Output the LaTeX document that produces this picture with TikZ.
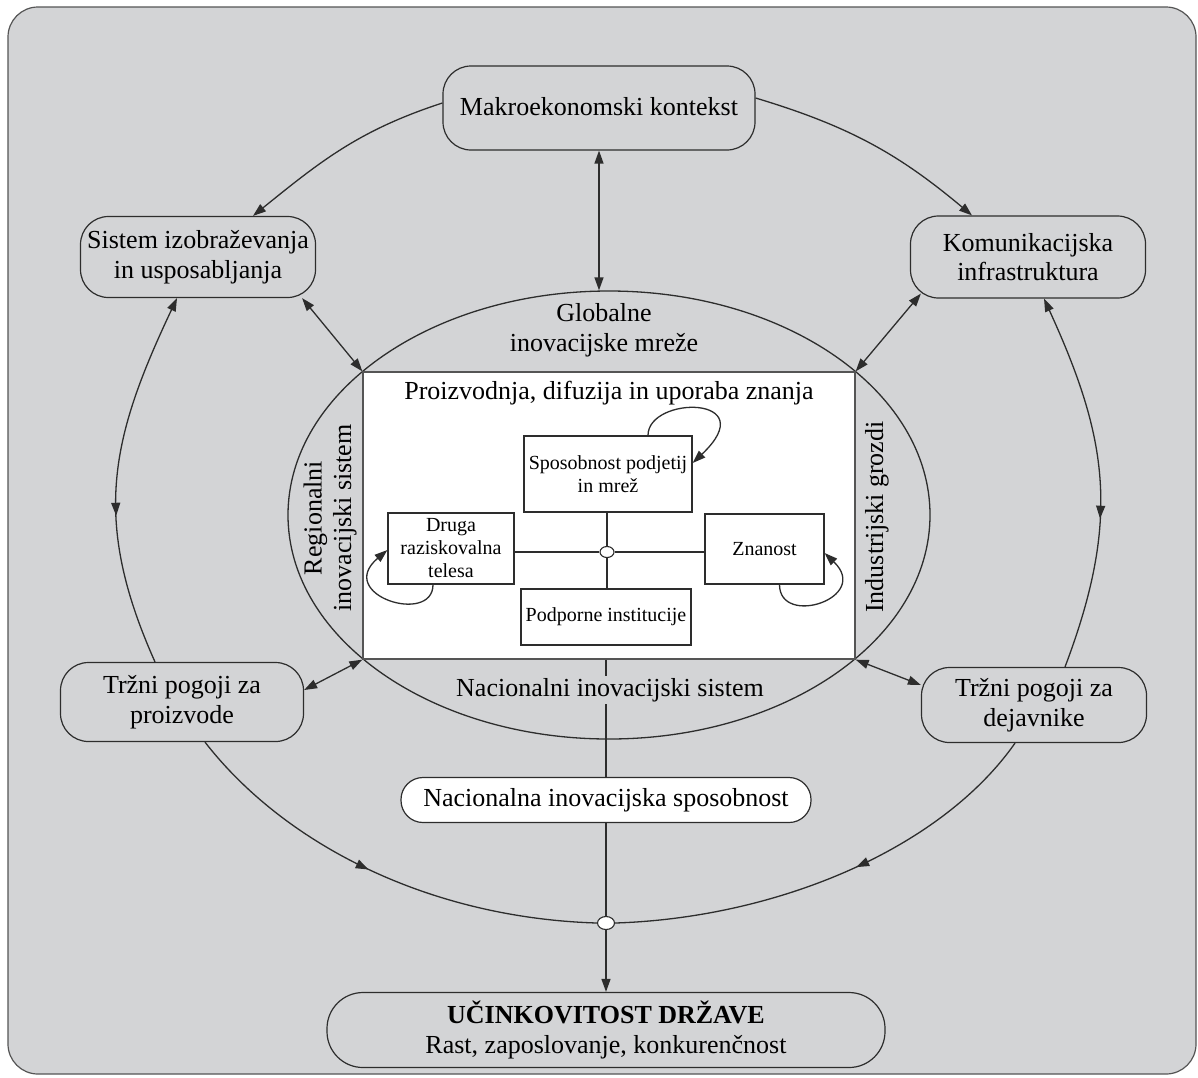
\documentclass[tikz,border=0pt]{standalone}
\usepackage{fontspec}
\setmainfont{Liberation Serif}
\usetikzlibrary{arrows.meta,shapes.geometric,decorations.markings}
\definecolor{bg}{RGB}{211,212,214}
\definecolor{ln}{RGB}{45,45,45}
\definecolor{frm}{RGB}{85,85,85}
\tikzset{
  big/.style={font=\fontsize{26}{29.5}\selectfont, align=center, text=black},
  sml/.style={font=\fontsize{20}{23}\selectfont, align=center, text=black},
  pill/.style={draw=ln, line width=1.2pt, rounded corners=28pt, inner sep=0pt, big},
  inbox/.style={draw=ln, line width=1.2pt, fill=white, inner sep=0pt, sml},
  conn/.style={draw=ln, line width=1.3pt},
  dot/.style={draw=ln, fill=white, ellipse, line width=1.1pt, inner sep=0pt},
  midtip/.style={postaction={decorate, decoration={markings,
      mark=at position #1 with {\arrow{>}}}}}
}
\begin{document}
\begin{tikzpicture}[x=1pt, y=-1pt, >={Triangle[length=13pt,width=9pt]}]
\useasboundingbox (0,0) rectangle (1198,1077);

% background panel
\draw[draw=frm, fill=bg, line width=1.2pt, rounded corners=30pt] (8,7) rectangle (1196,1074);

% national innovation system and its core
\node[draw=ln, line width=1.3pt, ellipse, minimum width=642pt, minimum height=448pt, inner sep=0pt] (nis) at (609,515) {};
\node[draw=frm, fill=white, line width=1.3pt, minimum width=492pt, minimum height=287pt, inner sep=0pt] (core) at (609,515.5) {};

% outer factors
\node[pill, minimum width=312pt, minimum height=84pt] (makro) at (599,108) {\raisebox{3pt}{Makroekonomski kontekst}};
\node[pill, minimum width=235pt, minimum height=81pt] (sis) at (198,257) {Sistem izobraževanja\\in usposabljanja};
\node[pill, minimum width=235pt, minimum height=82pt] (kom) at (1028,257) {Komunikacijska\\infrastruktura};
\node[pill, minimum width=243pt, minimum height=79pt] (tpp) at (182,702) {Tržni pogoji za\\proizvode};
\node[pill, minimum width=225pt, minimum height=75pt] (tpd) at (1034,705) {Tržni pogoji za\\dejavnike};
\node[pill, fill=white, rounded corners=22pt, minimum width=410pt, minimum height=45pt] (nac) at (606,800) {Nacionalna inovacijska sposobnost};
\node[pill, rounded corners=36pt, minimum width=558pt, minimum height=75pt] (uc) at (606,1030) {\textbf{UČINKOVITOST DRŽAVE}\\Rast, zaposlovanje, konkurenčnost};

% labels inside the ellipse
\node[big] (glob) at (604,330) {Globalne\\inovacijske mreže};
\node[big] (pdu) at (609,393) {Proizvodnja, difuzija in uporaba znanja};
\node[big, inner sep=2pt] (nacsis) at (610,690) {Nacionalni inovacijski sistem};
\node[big, rotate=90] (reg) at (330,518) {Regionalni\\inovacijski sistem};
\node[big, rotate=90] (ind) at (877,517) {Industrijski grozdi};

% knowledge actors
\node[inbox, minimum width=168pt, minimum height=76pt] (spo) at (608,474) {Sposobnost podjetij\\in mrež};
\node[inbox, minimum width=126pt, minimum height=71pt] (dru) at (451,548.5) {Druga\\raziskovalna\\telesa};
\node[inbox, minimum width=119pt, minimum height=70pt] (zna) at (764.5,549) {Znanost};
\node[inbox, minimum width=170pt, minimum height=56pt] (pod) at (606,617) {Podporne institucije};
\node[dot, minimum width=14pt, minimum height=11pt] (hub) at (607,552) {};
\node[dot, minimum width=17pt, minimum height=13pt] (join) at (606,923) {};

% links between the actors
\draw[conn] (hub.north) -- (hub.north |- spo.south);
\draw[conn] (hub.south) -- (hub.south |- pod.north);
\draw[conn] (hub.west) -- (hub.west -| dru.east);
\draw[conn] (hub.east) -- (hub.east -| zna.west);
\draw[conn,->] ([xshift=40]spo.north) .. controls +(0,-40) and +(72,-68) .. ([yshift=11]spo.east);
\draw[conn,->] ([xshift=-18]dru.south) .. controls +(0,41) and +(-53,45) .. ([yshift=-1.5]dru.west);
\draw[conn,->] ([xshift=15]zna.south) .. controls +(0,43) and +(47,45) .. ([yshift=-4]zna.east);

% macro context
\draw[conn,<->] (makro.south) -- (makro.south |- nis.north);
\draw[conn,->] ([yshift=5]makro.west) .. controls +(-83,27) and +(68,-55) .. ([xshift=55]sis.north);
\draw[conn,->] ([yshift=10]makro.east) .. controls +(93,28) and +(-74,-62) .. ([xshift=-56]kom.north);

% outer ring
\draw[conn,<-,midtip=0.6] ([xshift=-21]sis.south) .. controls +(-66,140) and +(-64,-143) .. ([xshift=-27]tpp.north);
\draw[conn,<-,midtip=0.6] ([xshift=16]kom.south) .. controls +(64,140) and +(56,-148) .. ([xshift=31]tpd.north);
\draw[conn,midtip=0.47] ([xshift=23]tpp.south) .. controls +(80,103) and +(-167,-5) .. (join.west);
\draw[conn,midtip=0.45] ([xshift=-19]tpd.south) .. controls +(-75,107) and +(160,-5) .. (join.east);

% links to the core corners
\draw[conn,<->] ([xshift=-14]sis.south east) -- (core.north west);
\draw[conn,<->] ([xshift=11,yshift=5]kom.south west) -- (core.north east);
\draw[conn,<->] ([yshift=12]tpp.east) -- (core.south west);
\draw[conn,<->] ([yshift=20]tpd.west) -- (core.south east);

% result chain, interrupted by the system label
\draw[conn] (nac.north |- core.south) -- (nac.north |- nacsis.north);
\draw[conn] (nac.north |- nacsis.south) -- (nac.north);
\draw[conn] (nac.south) -- (join.north);
\draw[conn,->] (join.south) -- (uc.north);
\end{tikzpicture}
\end{document}
